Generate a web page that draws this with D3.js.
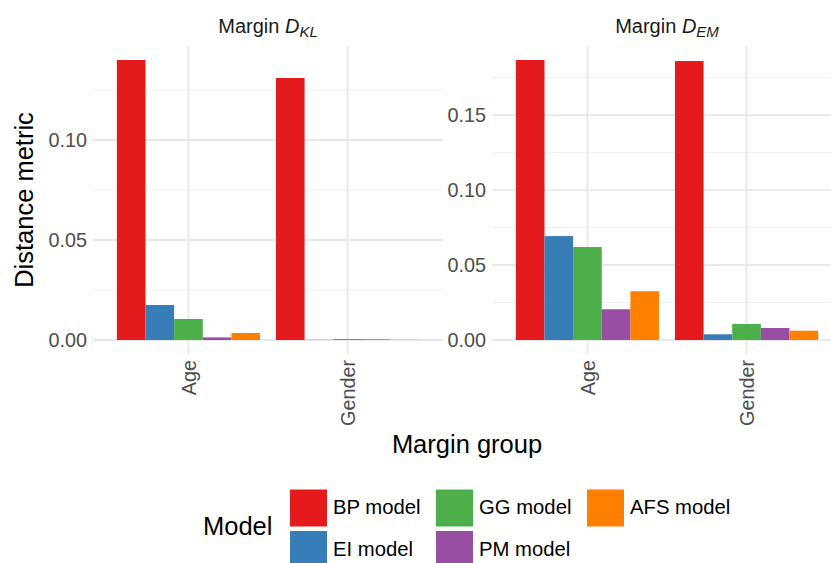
<!DOCTYPE html>
<html>
<head>
<meta charset="UTF-8">
<title>Margin distance</title>
<style>
  body { margin: 0; background: #fff; }
  text { font-family: "Liberation Sans", Arial, sans-serif; }
</style>
</head>
<body>
<script src="https://d3js.org/d3.v7.min.js"></script>
<script>
// data
var groups = ["Age", "Gender"]
var models = ["BP model", "EI model", "GG model", "PM model", "AFS model"]
var colors = ["#E41A1C", "#377EB8", "#4DAF4A", "#984EA3", "#FF7F00"]

var dklAge = [0.140, 0.0175, 0.0105, 0.0013, 0.0035]
var dklGender = [0.131, 0.0001, 0.0005, 0.0003, 0.0001]
var demAge = [0.1867, 0.0693, 0.0620, 0.0205, 0.0325]
var demGender = [0.186, 0.0038, 0.0107, 0.0080, 0.0062]

var dklTicks = [0, 0.05, 0.10]
var dklMinor = [0.025, 0.075, 0.125]
var demTicks = [0, 0.05, 0.10, 0.15]
var demMinor = [0.025, 0.075, 0.125, 0.175]

var width = 831, height = 563
var panelTop = 46, panelBottom = 354

var svg = d3.select("body").append("svg")
    .attr("width", width)
    .attr("height", height)

var panels = [
  { left: 93, right: 443, sub: "KL", values: [dklAge, dklGender], ticks: dklTicks, minor: dklMinor },
  { left: 492, right: 842, sub: "EM", values: [demAge, demGender], ticks: demTicks, minor: demMinor }
]

panels.forEach(function(p) {
  var g = svg.append("g")
  var maxV = d3.max(p.values, function(a) { return d3.max(a) })
  var y = d3.scaleLinear().domain([-0.05 * maxV, 1.05 * maxV]).range([panelBottom, panelTop])
  var x = d3.scalePoint().domain(groups).range([p.left, p.right]).padding(0.6)
  var inner = d3.scaleBand().domain(models).range([-x.step() * 0.45, x.step() * 0.45])

  // grid
  g.selectAll(".minor").data(p.minor).enter().append("line")
    .attr("x1", p.left).attr("x2", p.right)
    .attr("y1", function(d) { return y(d) }).attr("y2", function(d) { return y(d) })
    .attr("stroke", "#ebebeb").attr("stroke-width", 0.8)
  g.selectAll(".major").data(p.ticks).enter().append("line")
    .attr("x1", p.left).attr("x2", p.right)
    .attr("y1", function(d) { return y(d) }).attr("y2", function(d) { return y(d) })
    .attr("stroke", "#e8e8e8").attr("stroke-width", 1.8)
  g.selectAll(".vgrid").data(groups).enter().append("line")
    .attr("x1", function(d) { return x(d) }).attr("x2", function(d) { return x(d) })
    .attr("y1", panelTop).attr("y2", panelBottom)
    .attr("stroke", "#e8e8e8").attr("stroke-width", 1.8)

  // bars
  groups.forEach(function(grp, gi) {
    g.append("g").selectAll("rect").data(p.values[gi]).enter().append("rect")
      .attr("x", function(d, i) { return x(grp) + inner(models[i]) })
      .attr("width", inner.bandwidth())
      .attr("y", function(d) { return y(d) })
      .attr("height", function(d) { return y(0) - y(d) })
      .attr("fill", function(d, i) { return colors[i] })
  })

  // y axis
  var yAxis = g.append("g")
    .attr("transform", "translate(" + (p.left - 3) + ",0)")
    .call(d3.axisLeft(y).tickValues(p.ticks).tickSize(0).tickFormat(d3.format(".2f")))
  yAxis.select(".domain").remove()
  yAxis.selectAll("text").attr("font-size", "19.8px").attr("fill", "#4d4d4d")
    .attr("font-family", "Liberation Sans, Arial, sans-serif")

  // x axis
  var xAxis = g.append("g")
    .attr("transform", "translate(0," + (panelBottom + 6) + ")")
    .call(d3.axisBottom(x).tickSize(0))
  xAxis.select(".domain").remove()
  xAxis.selectAll("text")
    .attr("font-size", "19.8px").attr("fill", "#4d4d4d")
    .attr("font-family", "Liberation Sans, Arial, sans-serif")
    .attr("transform", "rotate(-90)")
    .attr("text-anchor", "end")
    .attr("x", 0).attr("y", 0).attr("dy", "0.35em")

  // strip title
  var t = g.append("text")
    .attr("x", (p.left + p.right) / 2).attr("y", 33)
    .attr("text-anchor", "middle")
    .attr("font-size", "20px").attr("fill", "#1a1a1a")
  t.append("tspan").text("Margin ")
  t.append("tspan").attr("font-style", "italic").text("D")
  t.append("tspan").attr("font-style", "italic").attr("font-size", "15px").attr("dy", 4).text(p.sub)
})

// axis titles
svg.append("text")
  .attr("transform", "translate(33,200) rotate(-90)")
  .attr("text-anchor", "middle")
  .attr("font-size", "25.5px").attr("fill", "#000")
  .text("Distance metric")

svg.append("text")
  .attr("x", 467).attr("y", 453)
  .attr("text-anchor", "middle")
  .attr("font-size", "25.5px").attr("fill", "#000")
  .text("Margin group")

// legend
var legend = svg.append("g")
legend.append("text")
  .attr("x", 203).attr("y", 535)
  .attr("font-size", "25.5px").attr("fill", "#000")
  .text("Model")

var colX = [290, 436, 587]
var rowY = [489.5, 531]
var items = legend.selectAll(".item").data(models).enter().append("g")
  .attr("transform", function(d, i) {
    return "translate(" + colX[Math.floor(i / 2)] + "," + rowY[i % 2] + ")"
  })
items.append("rect")
  .attr("width", 37).attr("height", 37)
  .attr("fill", function(d, i) { return colors[i] })
items.append("text")
  .attr("x", 43).attr("y", 24.5)
  .attr("font-size", "20.3px").attr("fill", "#000")
  .text(function(d) { return d })
</script>
</body>
</html>
